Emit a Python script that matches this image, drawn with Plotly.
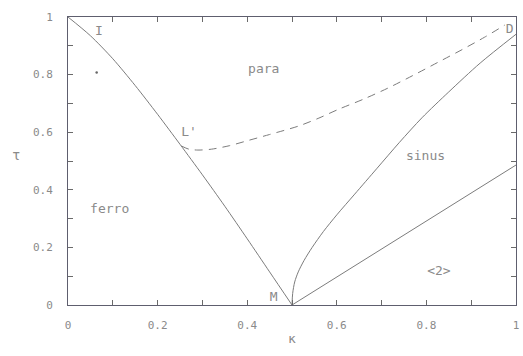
import plotly.graph_objects as go

# Phase boundaries in the (kappa, tau) plane
ferro_k = [0.0, 0.05, 0.1, 0.15, 0.2, 0.25, 0.3, 0.35, 0.4, 0.45, 0.5]
ferro_t = [1.0, 0.935, 0.855, 0.762, 0.662, 0.558, 0.452, 0.343, 0.23, 0.115, 0.0]

lifshitz_k = [0.253, 0.27, 0.29, 0.32, 0.36, 0.404, 0.45, 0.514, 0.56, 0.603, 0.66, 0.714,
              0.77, 0.825, 0.88, 0.93, 0.975]
lifshitz_t = [0.552, 0.541, 0.538, 0.541, 0.553, 0.572, 0.592, 0.621, 0.649, 0.679, 0.715, 0.753,
              0.797, 0.842, 0.887, 0.93, 0.972]

sinus_k = [0.5, 0.5015, 0.506, 0.514, 0.527, 0.545, 0.57, 0.6, 0.64, 0.69, 0.74, 0.79, 0.85,
           0.92, 1.0]
sinus_t = [0.0, 0.04, 0.08, 0.115, 0.155, 0.2, 0.255, 0.313, 0.385, 0.475, 0.565, 0.65, 0.74,
           0.84, 0.94]

two_k = [0.5, 1.0]
two_t = [0.0, 0.486]

# Region and point labels
label_text = ["I", "para", "L'", "ferro", "sinus", "M", "<2>", "D"]
label_k = [0.069, 0.437, 0.27, 0.093, 0.798, 0.459, 0.828, 0.986]
label_t = [0.95, 0.816, 0.597, 0.33, 0.515, 0.026, 0.116, 0.957]

dot_k = [0.064]
dot_t = [0.807]

line_col = "#7c7c7c"
text_col = "#8a8a8a"
tick_col = "#6a6a6a"
font_family = "DejaVu Sans Mono"

fig = go.Figure()
for xs, ys, dash in [(ferro_k, ferro_t, "solid"),
                     (lifshitz_k, lifshitz_t, "8px,6px"),
                     (sinus_k, sinus_t, "solid"),
                     (two_k, two_t, "solid")]:
    fig.add_trace(go.Scatter(x=xs, y=ys, mode="lines",
                             line=dict(color=line_col, width=1, dash=dash, shape="spline", smoothing=0.8),
                             hoverinfo="skip", showlegend=False))

fig.add_trace(go.Scatter(x=dot_k, y=dot_t, mode="markers", marker=dict(color="#666", size=2.5),
                         showlegend=False, hoverinfo="skip"))

fig.add_trace(go.Scatter(x=label_k, y=label_t, mode="text", text=label_text,
                         textfont=dict(family=font_family, size=13, color=text_col),
                         showlegend=False, hoverinfo="skip"))

tick_vals = [0, 0.2, 0.4, 0.6, 0.8, 1]
tick_text = ["0", "0.2", "0.4", "0.6", "0.8", "1"]

axis_common = dict(range=[0, 1], showgrid=False, zeroline=False, showline=True, linecolor="#5e5e6e",
                   linewidth=1, mirror="allticks", ticks="inside", ticklen=5, tickcolor=tick_col,
                   tickwidth=1, tickvals=tick_vals, ticktext=tick_text,
                   minor=dict(tickvals=[0.1, 0.3, 0.5, 0.7, 0.9], ticks="inside", ticklen=5,
                              tickcolor=tick_col, tickwidth=1),
                   tickfont=dict(family=font_family, size=11, color=text_col))

fig.update_xaxes(**axis_common, ticklabelstandoff=10)
fig.update_yaxes(**axis_common, ticklabelstandoff=12)

fig.add_annotation(text="κ", x=0.5, y=-0.148, xref="x", yref="paper", showarrow=False,
                   font=dict(family=font_family, size=13, color=text_col))
fig.add_annotation(text="τ", x=-0.13, y=0.52, xref="paper", yref="paper", showarrow=False,
                   font=dict(family=font_family, size=14, color=text_col))

fig.update_layout(width=523, height=356, margin=dict(l=68, r=4, t=17, b=51),
                  plot_bgcolor="white", paper_bgcolor="white")

fig.write_html("out.html")
